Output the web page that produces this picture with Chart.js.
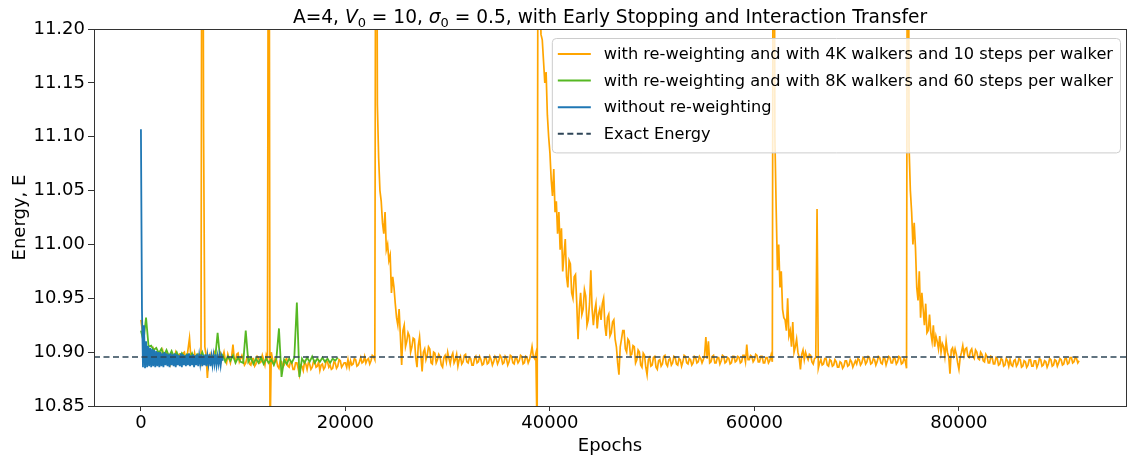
<!DOCTYPE html>
<html>
<head>
<meta charset="utf-8">
<script src="https://cdn.jsdelivr.net/npm/chart.js@4/dist/chart.umd.min.js"></script>
<style>
  body { margin: 0; background: #fff; }
  #wrap { width: 1129px; height: 457px; position: relative; }
</style>
</head>
<body>
<div id="wrap"><canvas id="energyChart"></canvas></div>
<script>
// sampling of each run (epochs between logged values)
const orangeStep = 125;
const greenStep = 250;
const blueStep = 100;

// with re-weighting, 4K walkers, 10 steps per walker (two lines = 5000 epochs)
const orangeEnergy = [
  10.930, 10.921, 10.912, 10.906, 10.904, 10.899, 10.902, 10.896, 10.899, 10.894, 10.902, 10.897, 10.895, 10.900, 10.899, 10.893, 10.896, 10.901, 10.893, 10.898,
  10.900, 10.894, 10.896, 10.890, 10.899, 10.895, 10.894, 10.899, 10.891, 10.897, 10.898, 10.892, 10.893, 10.899, 10.900, 10.894, 10.895, 10.904, 10.913, 10.896,
  10.895, 10.890, 10.899, 10.893, 10.893, 10.898, 10.897, 10.892, 11.600, 11.110, 10.905, 10.897, 10.876, 10.895, 10.898, 10.890, 10.894, 10.899, 10.901, 10.893,
  10.892, 10.897, 10.899, 10.892, 10.895, 10.900, 10.893, 10.890, 10.898, 10.894, 10.890, 10.896, 10.907, 10.894, 10.892, 10.898, 10.899, 10.891, 10.894, 10.897,
  10.893, 10.888, 10.890, 10.895, 10.896, 10.889, 10.888, 10.894, 10.894, 10.887, 10.889, 10.896, 10.895, 10.890, 10.891, 10.897, 10.893, 10.888, 10.897, 10.893,
  11.600, 10.820, 10.900, 10.893, 10.889, 10.894, 10.893, 10.887, 10.885, 10.892, 10.891, 10.886, 10.888, 10.893, 10.894, 10.887, 10.886, 10.891, 10.890, 10.884,
  10.884, 10.890, 10.890, 10.885, 10.879, 10.888, 10.887, 10.883, 10.891, 10.889, 10.884, 10.890, 10.889, 10.884, 10.886, 10.891, 10.892, 10.886, 10.887, 10.891,
  10.883, 10.888, 10.889, 10.884, 10.886, 10.892, 10.891, 10.886, 10.888, 10.884, 10.885, 10.891, 10.890, 10.885, 10.887, 10.893, 10.892, 10.886, 10.888, 10.890,
  10.890, 10.886, 10.893, 10.886, 10.892, 10.888, 10.889, 10.894, 10.893, 10.887, 10.888, 10.891, 10.895, 10.890, 10.891, 10.896, 10.890, 10.893, 10.894, 10.889,
  10.892, 10.897, 10.896, 10.893, 11.600, 11.130, 11.080, 11.050, 11.040, 11.020, 11.010, 11.030, 10.995, 11.000, 10.985, 10.990, 10.955, 10.970, 10.960, 10.945,
  10.932, 10.925, 10.940, 10.915, 10.888, 10.920, 10.925, 10.905, 10.910, 10.918, 10.915, 10.900, 10.905, 10.913, 10.912, 10.895, 10.886, 10.906, 10.914, 10.898,
  10.882, 10.900, 10.903, 10.893, 10.897, 10.905, 10.903, 10.890, 10.889, 10.900, 10.899, 10.890, 10.893, 10.898, 10.896, 10.888, 10.886, 10.895, 10.897, 10.891,
  10.900, 10.894, 10.889, 10.896, 10.899, 10.890, 10.893, 10.898, 10.887, 10.893, 10.896, 10.889, 10.891, 10.897, 10.898, 10.891, 10.890, 10.895, 10.894, 10.888,
  10.888, 10.894, 10.896, 10.890, 10.891, 10.896, 10.893, 10.888, 10.889, 10.895, 10.895, 10.889, 10.890, 10.896, 10.893, 10.888, 10.891, 10.896, 10.894, 10.889,
  10.892, 10.897, 10.895, 10.889, 10.890, 10.896, 10.894, 10.888, 10.891, 10.897, 10.896, 10.890, 10.889, 10.895, 10.894, 10.890, 10.892, 10.897, 10.896, 10.889,
  10.890, 10.896, 10.895, 10.890, 10.893, 10.898, 10.905, 10.896, 10.894, 10.899, 10.820, 11.600, 11.250, 11.195, 11.190, 11.170, 11.150, 11.160, 11.120, 11.100,
  11.085, 11.060, 11.045, 11.070, 11.030, 11.040, 11.010, 11.030, 10.995, 11.015, 10.975, 10.990, 11.005, 10.970, 10.960, 10.985, 10.982, 10.955, 10.950, 10.970,
  10.972, 10.945, 10.912, 10.940, 10.955, 10.935, 10.940, 10.958, 10.952, 10.925, 10.930, 10.945, 10.976, 10.940, 10.925, 10.938, 10.945, 10.922, 10.935, 10.940,
  10.930, 10.945, 10.950, 10.925, 10.915, 10.932, 10.935, 10.915, 10.918, 10.928, 10.930, 10.912, 10.905, 10.890, 10.879, 10.905, 10.912, 10.920, 10.920, 10.903,
  10.900, 10.912, 10.910, 10.897, 10.898, 10.906, 10.905, 10.890, 10.893, 10.902, 10.900, 10.888, 10.886, 10.899, 10.897, 10.886, 10.879, 10.893, 10.895, 10.887,
  10.888, 10.895, 10.896, 10.886, 10.884, 10.892, 10.893, 10.887, 10.889, 10.896, 10.897, 10.889, 10.887, 10.893, 10.894, 10.888, 10.890, 10.896, 10.895, 10.889,
  10.888, 10.894, 10.893, 10.887, 10.891, 10.897, 10.896, 10.890, 10.889, 10.894, 10.893, 10.888, 10.890, 10.896, 10.895, 10.890, 10.891, 10.896, 10.894, 10.890,
  10.893, 10.897, 10.914, 10.894, 10.910, 10.890, 10.891, 10.896, 10.897, 10.890, 10.890, 10.895, 10.895, 10.889, 10.892, 10.897, 10.896, 10.890, 10.891, 10.895,
  10.894, 10.889, 10.890, 10.896, 10.896, 10.891, 10.892, 10.896, 10.895, 10.890, 10.891, 10.897, 10.897, 10.891, 10.907, 10.893, 10.893, 10.897, 10.896, 10.891,
  10.893, 10.898, 10.897, 10.891, 10.891, 10.896, 10.896, 10.890, 10.890, 10.895, 10.895, 10.890, 10.892, 10.897, 10.891, 11.600, 11.100, 11.034, 10.976, 11.000,
  10.960, 10.975, 10.940, 10.932, 10.930, 10.920, 10.950, 10.915, 10.920, 10.905, 10.928, 10.900, 10.905, 10.912, 10.900, 10.895, 10.884, 10.898, 10.902, 10.893,
  10.900, 10.896, 10.893, 10.898, 10.897, 10.891, 10.889, 10.894, 10.895, 11.033, 10.885, 10.890, 10.893, 10.888, 10.889, 10.894, 10.894, 10.888, 10.887, 10.893,
  10.892, 10.887, 10.888, 10.893, 10.891, 10.886, 10.886, 10.891, 10.890, 10.885, 10.887, 10.892, 10.892, 10.887, 10.888, 10.893, 10.891, 10.886, 10.889, 10.892,
  10.889, 10.894, 10.893, 10.888, 10.890, 10.895, 10.894, 10.889, 10.891, 10.896, 10.895, 10.889, 10.890, 10.894, 10.893, 10.888, 10.891, 10.896, 10.895, 10.890,
  10.889, 10.895, 10.894, 10.888, 10.892, 10.896, 10.895, 10.890, 10.890, 10.895, 10.894, 10.889, 10.891, 10.896, 10.895, 10.889, 10.890, 10.894, 10.892, 10.885,
  11.600, 11.090, 11.050, 11.030, 11.000, 11.020, 10.997, 10.960, 10.948, 10.975, 10.932, 10.955, 10.940, 10.925, 10.945, 10.918, 10.920, 10.935, 10.918, 10.910,
  10.925, 10.905, 10.915, 10.910, 10.903, 10.915, 10.900, 10.908, 10.905, 10.896, 10.910, 10.900, 10.896, 10.880, 10.902, 10.904, 10.897, 10.903, 10.898, 10.890,
  10.884, 10.895, 10.900, 10.906, 10.897, 10.903, 10.904, 10.896, 10.895, 10.901, 10.903, 10.896, 10.894, 10.902, 10.900, 10.894, 10.893, 10.900, 10.898, 10.892,
  10.891, 10.898, 10.896, 10.890, 10.890, 10.896, 10.895, 10.889, 10.889, 10.895, 10.894, 10.888, 10.889, 10.894, 10.893, 10.887, 10.888, 10.894, 10.892, 10.887,
  10.893, 10.888, 10.887, 10.892, 10.893, 10.887, 10.889, 10.894, 10.893, 10.886, 10.887, 10.892, 10.891, 10.886, 10.888, 10.893, 10.893, 10.887, 10.887, 10.892,
  10.892, 10.886, 10.889, 10.894, 10.893, 10.887, 10.888, 10.892, 10.891, 10.886, 10.889, 10.894, 10.893, 10.887, 10.888, 10.893, 10.892, 10.887, 10.890, 10.894,
  10.893, 10.888, 10.889, 10.894, 10.894, 10.889, 10.890, 10.895, 10.895, 10.890, 10.891, 10.895, 10.894, 10.890, 10.892
];

// with re-weighting, 8K walkers, 60 steps per walker
const greenEnergy = [
  10.920, 10.910, 10.932, 10.905, 10.906, 10.902, 10.904, 10.899, 10.903, 10.897, 10.902, 10.896, 10.901, 10.895, 10.900, 10.894, 10.899, 10.895, 10.898, 10.894,
  10.899, 10.893, 10.898, 10.894, 10.900, 10.893, 10.897, 10.892, 10.896, 10.893, 10.918, 10.893, 10.897, 10.891, 10.896, 10.892, 10.897, 10.890, 10.895, 10.891,
  10.890, 10.920, 10.891, 10.895, 10.889, 10.894, 10.890, 10.895, 10.889, 10.894, 10.890, 10.893, 10.888, 10.894, 10.922, 10.877, 10.893, 10.889, 10.894, 10.890,
  10.895, 10.946, 10.877, 10.894, 10.890, 10.895, 10.891, 10.896, 10.890, 10.894, 10.891, 10.895, 10.891, 10.894, 10.890, 10.894, 10.892, 10.895
];

// without re-weighting
const blueEnergy = [
  11.107, 10.940, 10.886, 10.925, 10.885, 10.910, 10.886, 10.906, 10.887, 10.904,
  10.886, 10.903, 10.887, 10.902, 10.886, 10.901, 10.887, 10.900, 10.886, 10.900,
  10.887, 10.899, 10.886, 10.900, 10.888, 10.899, 10.887, 10.898, 10.886, 10.899,
  10.888, 10.898, 10.887, 10.899, 10.886, 10.898, 10.888, 10.897, 10.887, 10.899,
  10.886, 10.898, 10.888, 10.897, 10.887, 10.898, 10.888, 10.899, 10.887, 10.897,
  10.888, 10.898, 10.886, 10.897, 10.888, 10.898, 10.887, 10.897, 10.889, 10.898,
  10.887, 10.897, 10.888, 10.898, 10.887, 10.897, 10.889, 10.898, 10.887, 10.896,
  10.888, 10.897, 10.889, 10.898, 10.888, 10.896, 10.889, 10.897, 10.888, 10.896,
  10.892
];

const exactEnergy = 10.8955;

const seriesLabels = [
  "with re-weighting and with 4K walkers and 10 steps per walker",
  "with re-weighting and with 8K walkers and 60 steps per walker",
  "without re-weighting",
  "Exact Energy"
];
const seriesColors = ["#ffa500", "#56b823", "#1f77b4", "#2e4557"];

const xTicks = [0, 20000, 40000, 60000, 80000];
const yTicks = [10.85, 10.90, 10.95, 11.00, 11.05, 11.10, 11.15, 11.20];
const xRange = [-4590, 96340];
const yRange = [10.85, 11.20];

function toPoints(values, step) {
  return values.map((v, i) => ({ x: i * step, y: v }));
}

const FONT = "'DejaVu Sans', sans-serif";

// matplotlib-like title with italic symbols and subscripts
const titleParts = [
  ["A=4, ", "n"], ["V", "i"], ["0", "s"], [" = 10, ", "n"],
  ["σ", "i"], ["0", "s"], [" = 0.5, with Early Stopping and Interaction Transfer", "n"]
];

const titlePlugin = {
  id: "mathTitle",
  afterDraw(chart) {
    const ctx = chart.ctx;
    const area = chart.chartArea;
    const fonts = { n: "18.6px " + FONT, i: "italic 18.6px " + FONT, s: "13px " + FONT };
    ctx.save();
    let total = 0;
    titleParts.forEach(p => { ctx.font = fonts[p[1]]; total += ctx.measureText(p[0]).width; });
    let x = (area.left + area.right) / 2 - total / 2;
    const base = 23;
    ctx.fillStyle = "#000";
    ctx.textBaseline = "alphabetic";
    titleParts.forEach(p => {
      ctx.font = fonts[p[1]];
      ctx.fillText(p[0], x, p[1] === "s" ? base + 4 : base);
      x += ctx.measureText(p[0]).width;
    });
    ctx.restore();
  }
};

const framePlugin = {
  id: "frame",
  afterDatasetsDraw(chart) {
    const a = chart.chartArea;
    const ctx = chart.ctx;
    ctx.save();
    ctx.strokeStyle = "#333";
    ctx.lineWidth = 1;
    ctx.strokeRect(Math.round(a.left) + 0.5, Math.round(a.top) + 0.5,
      Math.round(a.right - a.left), Math.round(a.bottom - a.top));
    ctx.restore();
  }
};

// legend box in the upper right, like matplotlib's
const legendPlugin = {
  id: "mplLegend",
  afterDraw(chart) {
    const ctx = chart.ctx;
    const a = chart.chartArea;
    const boxRight = a.right - 6, boxTop = a.top + 9;
    const rowH = 26.6, pad = 6;
    ctx.save();
    ctx.font = "16.2px " + FONT;
    let textW = 0;
    seriesLabels.forEach(l => { textW = Math.max(textW, ctx.measureText(l).width); });
    const boxW = pad + 33 + 13 + textW + 7;
    const boxH = rowH * seriesLabels.length + 8;
    const boxLeft = boxRight - boxW;
    ctx.beginPath();
    ctx.roundRect(boxLeft + 0.5, boxTop + 0.5, boxW, boxH, 4);
    ctx.fillStyle = "rgba(255,255,255,0.8)";
    ctx.fill();
    ctx.strokeStyle = "#cccccc";
    ctx.lineWidth = 1;
    ctx.stroke();
    seriesLabels.forEach((label, i) => {
      const y = boxTop + 16 + i * rowH;
      const ds = chart.data.datasets[i];
      ctx.beginPath();
      ctx.setLineDash(ds.borderDash || []);
      ctx.strokeStyle = seriesColors[i];
      ctx.lineWidth = 2;
      ctx.moveTo(boxLeft + pad, y);
      ctx.lineTo(boxLeft + pad + 33, y);
      ctx.stroke();
      ctx.setLineDash([]);
      ctx.fillStyle = "#000";
      ctx.textBaseline = "middle";
      ctx.fillText(label, boxLeft + pad + 33 + 13, y + 1);
    });
    ctx.restore();
  }
};

const ctx = document.getElementById("energyChart");

new Chart(ctx, {
  type: "line",
  data: {
    datasets: [
      {
        label: seriesLabels[0],
        data: toPoints(orangeEnergy, orangeStep),
        borderColor: seriesColors[0],
        borderWidth: 1.7,
        order: 3
      },
      {
        label: seriesLabels[1],
        data: toPoints(greenEnergy, greenStep),
        borderColor: seriesColors[1],
        borderWidth: 1.8,
        order: 2
      },
      {
        label: seriesLabels[2],
        data: toPoints(blueEnergy, blueStep),
        borderColor: seriesColors[2],
        borderWidth: 1.8,
        order: 1
      },
      {
        label: seriesLabels[3],
        data: [{ x: xRange[0], y: exactEnergy }, { x: xRange[1], y: exactEnergy }],
        borderColor: seriesColors[3],
        borderWidth: 1.6,
        borderDash: [6, 3.5],
        order: 0
      }
    ]
  },
  options: {
    responsive: true,
    maintainAspectRatio: false,
    animation: false,
    parsing: false,
    layout: { padding: { top: 29, right: 3, left: 0, bottom: 0 } },
    elements: {
      point: { radius: 0 },
      line: { tension: 0, borderJoinStyle: "miter" }
    },
    datasets: { line: { clip: 0 } },
    scales: {
      x: {
        type: "linear",
        min: xRange[0],
        max: xRange[1],
        afterBuildTicks: s => { s.ticks = xTicks.map(v => ({ value: v })); },
        afterFit: s => { s.height = 51; },
        ticks: {
          color: "#000",
          font: { family: FONT, size: 18 },
          padding: 2,
          maxRotation: 0,
          callback: v => String(v)
        },
        grid: { drawOnChartArea: false, drawTicks: true, tickLength: 5, color: "#333" },
        border: { display: false },
        title: {
          display: true,
          text: "Epochs",
          color: "#000",
          font: { family: FONT, size: 18 },
          padding: { top: 0, bottom: 0 }
        }
      },
      y: {
        min: yRange[0],
        max: yRange[1],
        afterBuildTicks: s => { s.ticks = yTicks.map(v => ({ value: v })); },
        afterFit: s => { s.width = 94; },
        ticks: {
          color: "#000",
          font: { family: FONT, size: 18 },
          padding: 3,
          callback: v => Number(v).toFixed(2)
        },
        grid: { drawOnChartArea: false, drawTicks: true, tickLength: 6, color: "#333" },
        border: { display: false },
        title: {
          display: true,
          text: "Energy, E",
          color: "#000",
          font: { family: FONT, size: 18 },
          padding: { top: 10, bottom: 0 }
        }
      }
    },
    plugins: {
      legend: { display: false },
      title: { display: false },
      tooltip: { enabled: false }
    }
  },
  plugins: [framePlugin, titlePlugin, legendPlugin]
});
</script>
</body>
</html>
